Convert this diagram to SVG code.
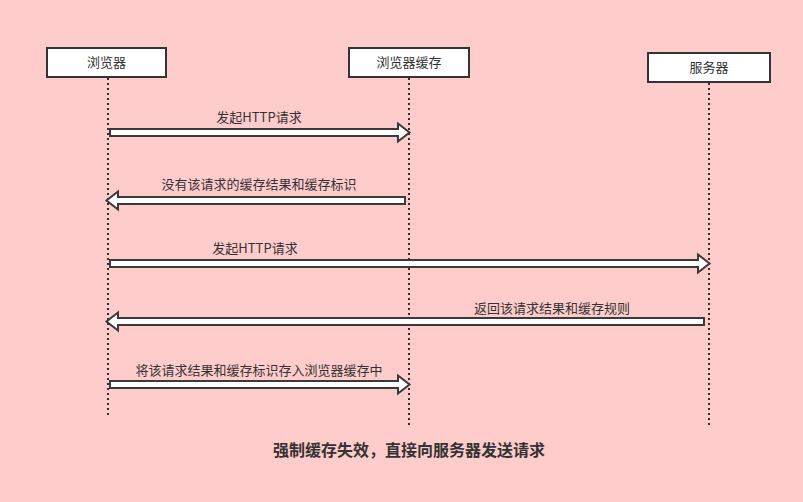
<svg xmlns="http://www.w3.org/2000/svg" width="803" height="502" viewBox="0 0 803 502">
<style>
.bg{fill:#ffcccc}
.box{fill:#ffffff;stroke:#333333;stroke-width:2}
.life{stroke:#3a2a2a;stroke-width:2;stroke-dasharray:2 3;fill:none}
.arr{fill:#ffffff;stroke:#3a3a3a;stroke-width:2;stroke-linejoin:miter}
.t{font-family:"Noto Sans CJK SC","Liberation Sans",sans-serif;font-size:13px;fill:#333333;text-anchor:middle}
.title{font-family:"Noto Sans CJK SC","Liberation Sans",sans-serif;font-size:16px;font-weight:bold;fill:#333333;text-anchor:middle}
</style>
<rect class="bg" x="0" y="0" width="803" height="502"/>
<g id="lifelines">
<line class="life" x1="108" y1="78" x2="108" y2="416"/>
<line class="life" x1="409" y1="78" x2="409" y2="426"/>
<line class="life" x1="709" y1="83" x2="709" y2="426"/>
</g>
<g id="browser"><rect class="box" x="47" y="48" width="119" height="29"/><text class="t" x="106.5" y="67">浏览器</text></g>
<g id="cache"><rect class="box" x="349" y="48" width="120" height="29"/><text class="t" x="409" y="67">浏览器缓存</text></g>
<g id="server"><rect class="box" x="648" y="53" width="122" height="29"/><text class="t" x="709" y="72">服务器</text></g>
<g id="connectors">
<polygon class="arr" points="110,129 398,129 398,123.5 409.5,132.5 398,141.5 398,136 110,136"/>
<text class="t" x="259" y="122">发起HTTP请求</text>
<polygon class="arr" points="405,197 118,197 118,191.5 106.5,200.5 118,209.5 118,204 405,204"/>
<text class="t" x="259" y="189">没有该请求的缓存结果和缓存标识</text>
<polygon class="arr" points="110,260 698,260 698,254.5 709.5,263.5 698,272.5 698,267 110,267"/>
<text class="t" x="255" y="253">发起HTTP请求</text>
<polygon class="arr" points="704,318 118,318 118,312.5 106.5,321.5 118,330.5 118,325 704,325"/>
<text class="t" x="552" y="313">返回该请求结果和缓存规则</text>
<polygon class="arr" points="110,381 398,381 398,375.5 409.5,384.5 398,393.5 398,388 110,388"/>
<text class="t" x="259" y="375">将该请求结果和缓存标识存入浏览器缓存中</text>
</g>
<text class="title" x="409" y="456">强制缓存失效，直接向服务器发送请求</text>
</svg>
